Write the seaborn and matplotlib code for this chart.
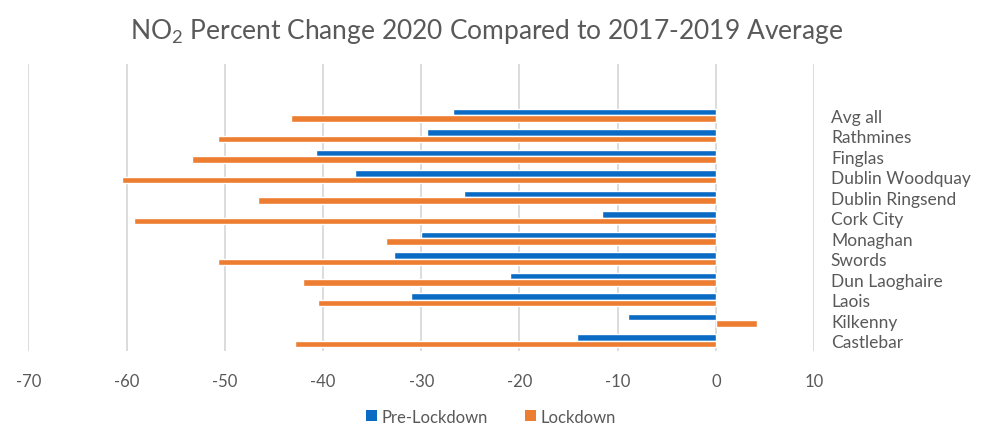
import matplotlib
matplotlib.use("Agg")
import matplotlib.pyplot as plt
from matplotlib.patches import Patch
import seaborn as sns
import pandas as pd

sites = ["Avg all", "Rathmines", "Finglas", "Dublin Woodquay", "Dublin Ringsend",
         "Cork City", "Monaghan", "Swords", "Dun Laoghaire", "Laois", "Kilkenny",
         "Castlebar"]
pre_lockdown = [-26.8, -29.4, -40.7, -36.7, -25.6, -11.6, -30.0, -32.8, -21.0, -31.0, -9.0, -14.1]
lockdown = [-43.3, -50.7, -53.3, -60.5, -46.6, -59.2, -33.6, -50.7, -42.0, -40.5, 4.2, -42.8]
periods = ["Pre-Lockdown", "Lockdown"]
x_ticks = [-70, -60, -50, -40, -30, -20, -10, 0, 10]

BLUE = "#0A6BC4"
ORANGE = "#ED7D31"
TEXT = "#595959"
GRID = "#D9D9D9"
FONT = ["Lato", "DejaVu Sans"]

df = pd.DataFrame({
    "site": sites * 2,
    "value": pre_lockdown + lockdown,
    "period": [periods[0]] * len(sites) + [periods[1]] * len(sites),
})

sns.set_theme(style="white")
plt.rcParams["font.family"] = FONT
plt.rcParams["mathtext.fontset"] = "custom"
plt.rcParams["mathtext.rm"] = "Lato"

fig = plt.figure(figsize=(9.88, 4.27), dpi=100)
ax = fig.add_axes([0.0286, 0.1756, 0.7955, 0.6722])

sns.barplot(data=df, x="value", y="site", hue="period", order=sites,
            hue_order=periods, palette=[BLUE, ORANGE], orient="h",
            width=0.62, saturation=1, legend=False, ax=ax)

ax.set_xlim(-70, 10)
ax.set_ylim(11.5, -2.5)
ax.set_xticks(x_ticks)
ax.set_xticklabels([str(t) for t in x_ticks])
ax.xaxis.grid(True, color=GRID, linewidth=1.3)
ax.set_axisbelow(True)
for s in ax.spines.values():
    s.set_visible(False)
ax.set_xlabel("")
ax.set_ylabel("")

ax.tick_params(axis="x", length=0, pad=16, labelsize=12, labelcolor=TEXT)
ax.tick_params(axis="y", length=0, left=False, right=False,
               labelleft=False, labelright=True, pad=12,
               labelsize=12.5, labelcolor=TEXT)

fig.text(0.492, 0.927, "NO$_\\mathregular{2}$ Percent Change 2020 Compared to 2017-2019 Average",
         ha="center", va="center", fontsize=19, color=TEXT)

handles = [Patch(facecolor=BLUE, edgecolor="none"), Patch(facecolor=ORANGE, edgecolor="none")]
fig.legend(handles, periods, loc="center", bbox_to_anchor=(0.497, 0.022),
           ncol=2, frameon=False, fontsize=12, labelcolor=TEXT,
           handlelength=0.65, handleheight=0.65, handletextpad=0.3,
           columnspacing=2.2)

fig.savefig("out.png", dpi=100)
